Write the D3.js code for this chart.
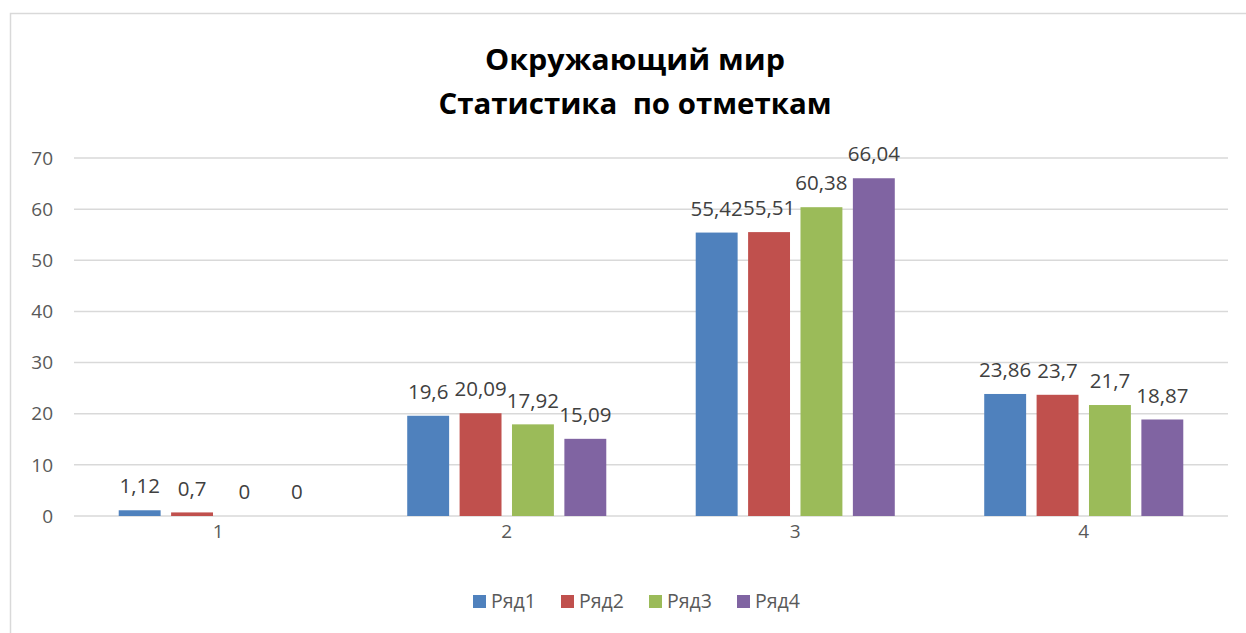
<!DOCTYPE html>
<html><head><meta charset="utf-8">
<script src="https://cdn.jsdelivr.net/npm/d3@7"></script>
<style>body{margin:0;background:#fff}svg{display:block}.title{white-space:pre}</style>
</head><body>
<svg id="c" width="1246" height="633"></svg>
<script>
const categories = ["1","2","3","4"];
const seriesNames = ["Ряд1","Ряд2","Ряд3","Ряд4"];
const seriesColors = ["#4f81bd","#c0504d","#9bbb59","#8064a2"];
const values = [
  [1.12, 19.6, 55.42, 23.86],
  [0.7, 20.09, 55.51, 23.7],
  [0, 17.92, 60.38, 21.7],
  [0, 15.09, 66.04, 18.87]
];
const labels = [
  ["1,12","19,6","55,42","23,86"],
  ["0,7","20,09","55,51","23,7"],
  ["0","17,92","60,38","21,7"],
  ["0","15,09","66,04","18,87"]
];
const yTicks = [0,10,20,30,40,50,60,70];
const titleLines = ["Окружающий мир","Статистика  по отметкам"];

const svg = d3.select("#c");
const font = "'Open Sans', sans-serif";
svg.append("rect").attr("x",10.5).attr("y",13.5).attr("width",1260).attr("height",640)
  .attr("fill","#fff").attr("stroke","#d9d9d9").attr("stroke-width",1.5);

const L=74, R=1228, T=158, B=516;
const x0 = d3.scaleBand().domain(categories).range([L,R]).paddingInner(0.31).paddingOuter(0.155);
const x1 = d3.scaleBand().domain(d3.range(4)).range([0,x0.bandwidth()]).paddingInner(0.2);
const y = d3.scaleLinear().domain([0,70]).range([B,T]);

const g = svg.append("g");
g.selectAll("line.grid").data(yTicks).join("line")
  .attr("x1",L).attr("x2",R).attr("y1",d=>y(d)).attr("y2",d=>y(d))
  .attr("stroke","#d9d9d9").attr("stroke-width",1.5);
g.selectAll("text.yt").data(yTicks).join("text")
  .attr("x",53).attr("y",d=>y(d)).attr("dy","0.35em").attr("text-anchor","end")
  .attr("font-family",font).attr("font-size",19).attr("fill","#595959").text(d=>d);

g.selectAll("text.xt").data(categories).join("text")
  .attr("x",d=>x0(d)+x0.bandwidth()/2).attr("y",531).attr("dy","0.35em").attr("text-anchor","middle")
  .attr("font-family",font).attr("font-size",19).attr("fill","#595959").text(d=>d);

seriesNames.forEach((s,si)=>{
  categories.forEach((c,ci)=>{
    const v = values[si][ci];
    const bx = x0(c)+x1(si);
    if (v>0) g.append("rect").attr("x",bx).attr("y",y(v)).attr("width",x1.bandwidth()).attr("height",B-y(v))
      .attr("fill",seriesColors[si]);
    g.append("text").attr("x",bx+x1.bandwidth()/2).attr("y",y(v)-24).attr("dy","0.35em")
      .attr("text-anchor","middle").attr("font-family",font).attr("font-size",20.5).attr("fill","#404040")
      .text(labels[si][ci]);
  });
});

const titleW = [300, 393];
titleLines.forEach((t,i)=>{
  svg.append("text").attr("class","title").attr("x",635).attr("y",60+i*44).attr("dy","0.35em").attr("text-anchor","middle")
    .attr("font-family",font).attr("font-weight","bold").attr("font-size",28).attr("fill","#000")
    .attr("textLength",titleW[i]).attr("lengthAdjust","spacingAndGlyphs").text(t);
});

// legend
const legX = [473,561,649,737];
seriesNames.forEach((s,i)=>{
  svg.append("rect").attr("x",legX[i]).attr("y",595).attr("width",13).attr("height",13).attr("fill",seriesColors[i]);
  svg.append("text").attr("x",legX[i]+18).attr("y",601).attr("dy","0.35em").attr("font-family",font)
    .attr("font-size",19.5).attr("fill","#595959").text(s);
});
</script>
</body></html>
